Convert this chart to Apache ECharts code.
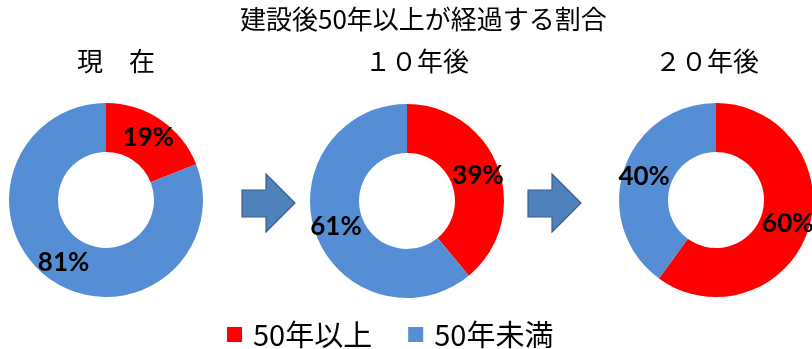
<!DOCTYPE html>
<html>
<head>
<meta charset="utf-8">
<style>
  html, body { margin: 0; padding: 0; background: #fff; }
  #chart { width: 812px; height: 349px; }
</style>
<script src="https://cdn.jsdelivr.net/npm/echarts@6/dist/echarts.min.js"></script>
</head>
<body>
<div id="chart"></div>
<script>
// Share of facilities 50+ years after construction, now and in the future
const categories = ['50年以上', '50年未満'];
const periods = ['現　在', '１０年後', '２０年後'];
const over50 = [19, 39, 60];
const under50 = [81, 61, 40];
const chartTitle = '建設後50年以上が経過する割合';

const colors = ['#FF0000', '#558ED5'];
const centers = [[106, 200], [407, 201], [716, 200]];
const headerLeft = [77, 365, 655];

const cjk = '"Noto Sans CJK JP", "Noto Sans CJK SC", sans-serif';

const chart = echarts.init(document.getElementById('chart'));

const series = periods.map((p, i) => ({
  name: p,
  type: 'pie',
  center: centers[i],
  radius: [48, 97],
  startAngle: 90,
  clockwise: true,
  silent: true,
  avoidLabelOverlap: false,
  itemStyle: { borderWidth: 0 },
  label: {
    show: true,
    position: 'inside',
    formatter: '{c}%',
    color: '#000',
    fontFamily: 'Lato, "Noto Sans", sans-serif',
    fontWeight: 'bold',
    fontSize: 26
  },
  labelLine: { show: false },
  data: [
    { name: categories[0], value: over50[i], itemStyle: { color: colors[0] } },
    { name: categories[1], value: under50[i], itemStyle: { color: colors[1] } }
  ]
}));

// Block arrows between the donuts
function arrow(x0) {
  return {
    type: 'polygon',
    shape: {
      points: [
        [x0, 190], [x0 + 24, 190], [x0 + 24, 174], [x0 + 53, 203],
        [x0 + 24, 232], [x0 + 24, 217], [x0, 217]
      ]
    },
    style: { fill: '#4F81BD', stroke: '#385D8A', lineWidth: 1.2 }
  };
}

chart.setOption({
  animation: false,
  title: [
    {
      text: chartTitle, left: 240, top: 6, padding: 0,
      textStyle: { fontFamily: cjk, fontSize: 26, fontWeight: 'normal', color: '#000' }
    }
  ].concat(periods.map((p, i) => ({
    text: p, left: headerLeft[i], top: 48, padding: 0,
    textStyle: { fontFamily: cjk, fontSize: 26, fontWeight: 'normal', color: '#000' }
  }))),
  legend: {
    data: categories,
    left: 227,
    top: 320,
    padding: 0,
    itemWidth: 15,
    itemHeight: 15,
    itemGap: 36,
    icon: 'rect',
    selectedMode: false,
    textStyle: { fontFamily: cjk, fontSize: 29, color: '#000', padding: [0, 0, 0, 6] }
  },
  graphic: [arrow(242), arrow(528)],
  series: series
});
</script>
</body>
</html>
